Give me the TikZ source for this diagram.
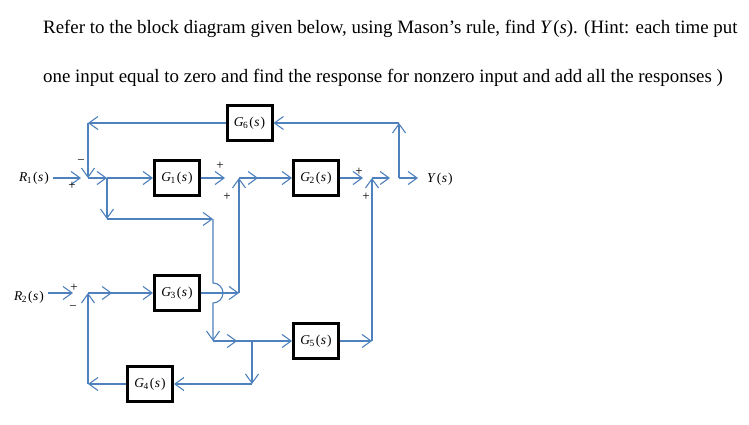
\documentclass[tikz,border=0pt]{standalone}
\usepackage{fontspec}
\setmainfont{Liberation Serif}
\usetikzlibrary{arrows.meta,decorations.markings}
\definecolor{lblue}{RGB}{79,129,189}
\newcommand\Gblk[1]{\textit{G}\kern-0.5pt\textsubscript{#1}\kern1pt(\kern0.5pt\textit{s}\kern1pt)}
\newcommand\Rsig[1]{\textit{R}\kern-0.5pt\textsubscript{#1}\kern1pt(\kern0.5pt\textit{s}\kern1pt)}
\begin{document}
\begin{tikzpicture}[x=1pt,y=-1pt,
 sig/.style={draw=lblue,line width=1.1pt,-{Straight Barb[length=9pt,width=13pt,line width=1.1pt]}},
 ln/.style={draw=lblue,line width=1.1pt},
 blk/.style={draw=black,line width=3pt,fill=white,minimum width=45pt,minimum height=35pt,inner sep=0pt,font=\fontsize{13.5}{15}\selectfont},
 lab/.style={font=\fontsize{13.5}{15}\selectfont,inner sep=0pt},
 sgn/.style={font=\fontsize{13}{14}\selectfont,inner sep=0pt},
 midarr/.style={postaction={decorate,decoration={markings,mark=at position #1 with {\arrow{Straight Barb[length=9pt,width=13pt,line width=1.1pt]}}}}}
]
\fill[white] (0,0) rectangle (749,425);
\useasboundingbox (0,0) rectangle (749,425);
% header text
\node[anchor=base west,inner sep=0pt,font=\fontsize{18.9}{22}\selectfont] (t1) at (43,34) {Refer to the block diagram given below, using Mason’s rule, find \textit{Y}\kern1pt(\textit{s}). (Hint: each time put};
\node[anchor=base west,inner sep=0pt,font=\fontsize{18.9}{22}\selectfont] (t2) at (43,83) {one input equal to zero and find the response for nonzero input and add all the responses )};
% blocks
\node[blk] (G6) at (249.5,123) {\Gblk{6}};
\node[blk] (G1) at (177,178) {\Gblk{1}};
\node[blk] (G2) at (316,178) {\Gblk{2}};
\node[blk] (G3) at (177,293) {\Gblk{3}};
\node[blk] (G5) at (316,341) {\Gblk{5}};
\node[blk] (G4) at (150,384) {\Gblk{4}};
% signals
\node[lab,anchor=east] (R1) at (49,178) {\Rsig{1}};
\node[lab,anchor=east] (R2) at (44,297) {\Rsig{2}};
\node[lab,anchor=west] (Y) at (427,179) {\textit{Y}\kern1pt(\kern0.5pt\textit{s}\kern1pt)};
% junction points and corners
\coordinate (s1) at (88,178);
\coordinate (c1) at (88,123);
\coordinate (b1) at (107,178);
\coordinate (c2) at (107,219);
\coordinate (c3) at (213,219);
\coordinate (h1) at (213,283);
\coordinate (c4) at (213,341);
\coordinate (b3) at (252,341);
\coordinate (c5) at (252,384);
\coordinate (c6) at (88,384);
\coordinate (s2) at (88,293);
\coordinate (c7) at (239,293);
\coordinate (s3) at (239,178);
\coordinate (s4) at (372,178);
\coordinate (b4) at (399,178);
\coordinate (c8) at (399,123);
\coordinate (c9) at (372,341);
\coordinate (yo) at (418,178);
% connectors
\draw[sig,shorten >=7pt] ([xshift=4pt]R1.east) -- (s1);
\draw[sig] (G6.west) -- (c1);
\draw[sig] (c1) -- (s1);
\draw[sig] (s1) -- (b1);
\draw[sig] (b1) -- (G1.west);
\draw[sig] (b1) -- (c2);
\draw[sig] (c2) -- (c3);
\draw[sig] (c3) -- (h1) arc[start angle=90,end angle=-90,radius=10pt] -- (c4);
\draw[ln,midarr=0.62] (c4) -- (b3);
\draw[sig] (b3) -- (G5.west);
\draw[sig] (b3) -- (c5);
\draw[sig] (c5) -- (G4.east);
\draw[sig] (G4.west) -- (c6);
\draw[sig] (c6) -- (s2);
\draw[sig,shorten >=15pt] ([xshift=4pt]R2.east |- s2) -- (s2);
\draw[sig,midarr=0.37] (s2) -- (G3.west);
\draw[sig] (G3.east) -- (c7);
\draw[sig] (c7) -- (s3);
\draw[sig,shorten >=14pt] (G1.east) -- (s3);
\draw[sig,midarr=0.36] (s3) -- (G2.west);
\draw[sig,shorten >=9pt] (G2.east) -- (s4);
\draw[sig,shorten >=9pt] (s4) -- (b4);
\draw[sig] (b4) -- (yo);
\draw[sig] (b4) -- (c8);
\draw[sig] (c8) -- (G6.east);
\draw[sig] (G5.east) -- (c9);
\draw[sig] (c9) -- (s4);
% signs
\node[sgn] (p1) at (72,186) {+};
\node[sgn] (m1) at (81,162) {−};
\node[sgn] (p2) at (220,166) {+};
\node[sgn] (p3) at (227,197) {+};
\node[sgn] (p4) at (359,172) {+};
\node[sgn] (p5) at (366,197) {+};
\node[sgn] (p6) at (74,288) {+};
\node[sgn] (m2) at (73,308) {−};
\end{tikzpicture}
\end{document}
